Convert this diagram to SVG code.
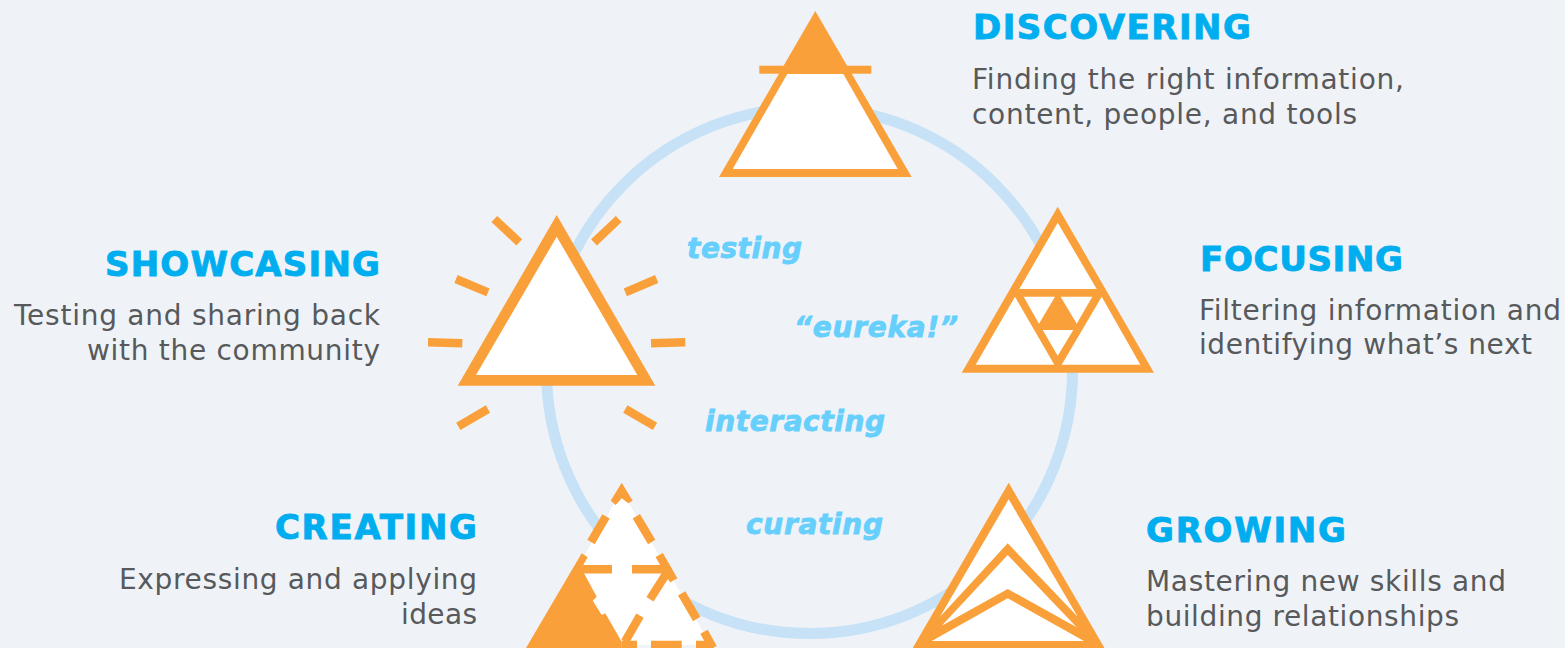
<svg xmlns="http://www.w3.org/2000/svg" width="1565" height="648" viewBox="0 0 1565 648">
<style>
.o{fill:#FAA03A}.w{fill:#fff}
.s{stroke:#FAA03A;stroke-width:8.5;fill:none}
.t{font:bold 34px "DejaVu Sans",Verdana,sans-serif;fill:#00AEEF;stroke:#00AEEF;stroke-width:.9}
.b{font:28px "DejaVu Sans",Verdana,sans-serif;fill:#58595B}
.i{font:italic bold 28px "DejaVu Sans",Verdana,sans-serif;fill:#66CFFB;stroke:#66CFFB;stroke-width:.8}
.e{text-anchor:end}
</style>
<rect width="1565" height="648" fill="#EFF3F8"/>
<g id="connectors"><circle cx="809.5" cy="370.5" r="263" fill="none" stroke="#C7E2F6" stroke-width="11"/></g>
<g id="discovering">
<polygon class="o" points="815.3,11 911.7,177 719,177"/>
<rect class="o" x="759.3" y="65.7" width="112" height="8"/>
<polygon class="w" points="787.3,74 843.3,74 897.7,169 732.7,169"/>
<text class="t" x="973" y="39" textLength="278">DISCOVERING</text>
<text class="b" x="972" y="89" textLength="432">Finding the right information,</text>
<text class="b" x="972" y="124" textLength="385">content, people, and tools</text>
</g>
<g id="focusing">
<polygon class="o" points="1057.7,206.7 1154,372.7 961.7,372.7"/>
<polygon class="w" points="1057.7,222.7 1096.7,289 1019.3,289"/>
<polygon class="w" points="1015,296.7 1054.3,364.7 975.7,364.7"/>
<polygon class="w" points="1101.7,296.7 1140.3,364.7 1061.7,364.7"/>
<polygon class="w" points="1023.7,296.7 1055,296.7 1039,323.7"/>
<polygon class="w" points="1060.7,296.7 1092.3,296.7 1076.7,323.7"/>
<polygon class="w" points="1042.7,330 1073.3,330 1057.7,355.7"/>
<text class="t" x="1200" y="271" textLength="203">FOCUSING</text>
<text class="b" x="1199" y="320" textLength="362">Filtering information and</text>
<text class="b" x="1199" y="354" textLength="333">identifying what’s next</text>
</g>
<g id="growing">
<polygon class="o" points="1008.7,482.7 1104.5,648 912.7,648"/>
<polygon class="w" points="1008.7,499.3 1077.7,616.7 1007.7,543.3 940,616.7"/>
<polygon class="w" points="1007.7,555 1076.7,627.3 1007.7,589 941.7,625.7"/>
<polygon class="w" points="1007.7,598.3 1084,641 931.7,641"/>
<text class="t" x="1146" y="542" textLength="200">GROWING</text>
<text class="b" x="1146" y="591" textLength="360">Mastering new skills and</text>
<text class="b" x="1146" y="626" textLength="313">building relationships</text>
</g>
<g id="creating">
<polygon class="w" points="621.7,490.7 532.8,645 710.6,645"/>
<polygon class="o" points="581.7,553.3 587.7,557.3 582.7,566 584,573.3 596.7,596.7 592.7,600.7 601.7,615 605.3,613.3 621.7,641.7 621.7,648 526,648"/>
<polygon class="o" points="621.7,482.7 632.7,500.7 628.3,503.3 621.7,498.3 615.7,505 610.7,500.7"/>
<path class="s" d="M606 516.3L591 542M636.3 516.3L651.7 542M659.2 555L673.7 580.3M681.7 593.3L696.7 619M704 631.7L713 648M582.7 569.2H612M632 569.2H665M666.7 573L650 599.3M640 615.7L625 641.7M621.7 645H637M651 645H681.7M696 645H710"/>
<text class="t e" x="477" y="539" textLength="202">CREATING</text>
<text class="b e" x="477" y="589" textLength="358">Expressing and applying</text>
<text class="b e" x="477" y="624" textLength="76">ideas</text>
</g>
<g id="showcasing">
<polygon class="o" points="556.7,215 655.3,385.7 457.7,385.7"/>
<polygon class="w" points="556.7,236.7 637.3,375 476,375"/>
<path class="s" d="M494.3 219L519.3 242.3M618.7 219L594 242.3M456 279L488 292.3M656.7 279L625.3 292.3M428 342.3L462.3 343.3M685.3 342.3L651 343.3M458.3 426.3L488 409M655 426.3L625.3 409"/>
<text class="t e" x="380" y="276" textLength="275">SHOWCASING</text>
<text class="b e" x="380" y="325" textLength="366">Testing and sharing back</text>
<text class="b e" x="380" y="360" textLength="293">with the community</text>
</g>
<g id="labels">
<text class="i" x="687" y="258" textLength="115">testing</text>
<text class="i" x="794" y="337" textLength="164">“eureka!”</text>
<text class="i" x="705" y="431" textLength="180">interacting</text>
<text class="i" x="746" y="534" textLength="137">curating</text>
</g>
</svg>
